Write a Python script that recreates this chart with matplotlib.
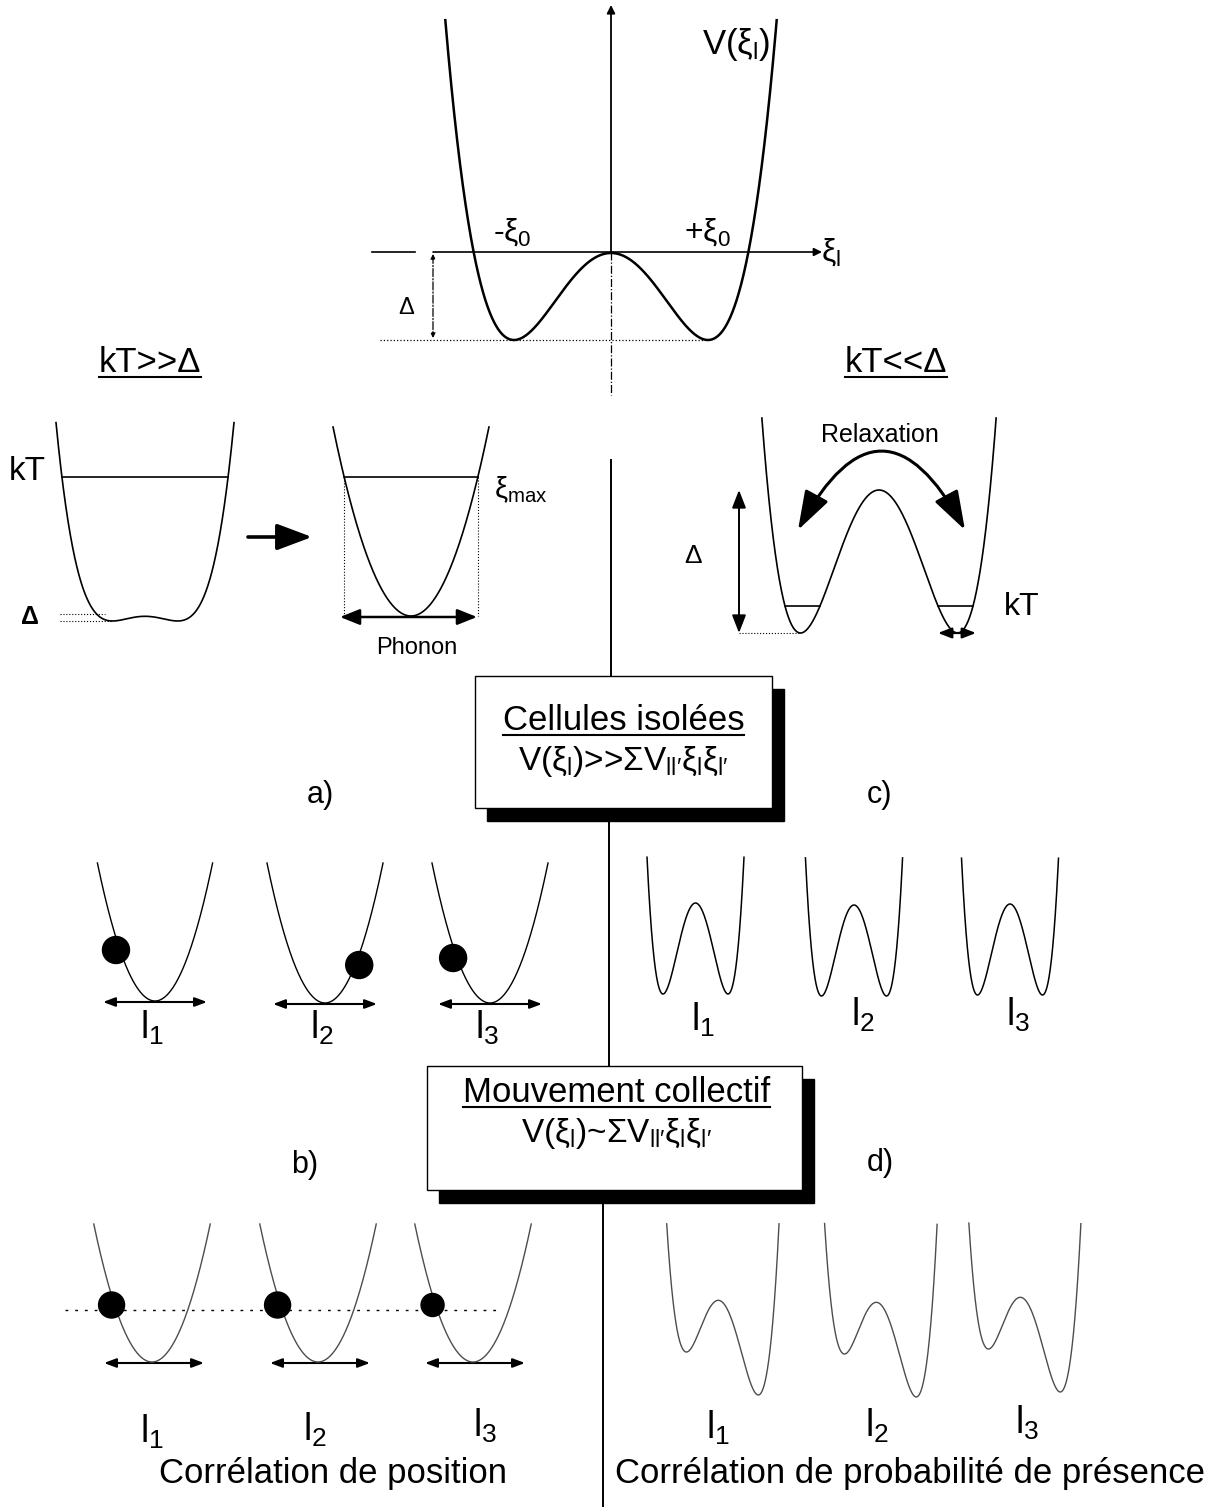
import numpy as np
import matplotlib.pyplot as plt
from matplotlib.patches import Circle, Rectangle, FancyArrowPatch

plt.rcParams['font.family'] = ['Liberation Sans', 'DejaVu Sans']
plt.rcParams['mathtext.fontset'] = 'custom'
plt.rcParams['mathtext.rm'] = 'Liberation Sans'
plt.rcParams['mathtext.it'] = 'Liberation Sans'
plt.rcParams['mathtext.sf'] = 'Liberation Sans'
plt.rcParams['mathtext.bf'] = 'Liberation Sans:bold'

# ---- data (schematic potentials, in picture units) ----
# main double well V(xi_l): barrier height Delta, half distance between minima
main_delta = 87
main_xi0 = 97
# a) kT >> Delta : shallow double well, then harmonic approx (phonon)
a_delta = 4.7
a_xi0 = 32.5
phonon_k = 0.0311
# c) kT << Delta : deep double well
c_delta = 143
c_xi0 = 78.5
# row "isolated cells" : harmonic wells with a particle (side, height above bottom)
iso_k = 0.0416
iso_ball_side = [-1, 1, -1]
iso_ball_height = [51, 38, 45]
# row "isolated cells" right : symmetric double wells
iso_dw_delta = 91
iso_dw_xi0 = 32.5
# row "collective" left : harmonic wells, particles at a common height
col_k = 0.0407
col_ball_height = 57
col_ball_size = [13, 13, 11.5]
# row "collective" right : tilted double wells
col_dw_delta = 72
col_dw_tilt = 21.5
col_dw_xi0 = 36
cell_labels = ['l$_1$', 'l$_2$', 'l$_3$']

# ---- layout ----
W, H = 1228, 1507
fig = plt.figure(figsize=(W / 100, H / 100), dpi=100)
ax = fig.add_axes([0, 0, 1, 1])
ax.set_xlim(0, W)
ax.set_ylim(H, 0)
ax.axis('off')


def double_well(xc, xi0, delta, ybot, ytop, tilt=0.0):
    u = np.linspace(-3, 3, 3001)
    e = delta * (u ** 2 - 1) ** 2 - tilt * u
    y = ybot - (e - e.min())
    keep = y >= ytop
    return xc + xi0 * u[keep], y[keep]


def parabola(xc, k, ybot, ytop):
    half = np.sqrt((ybot - ytop) / k)
    x = np.linspace(xc - half, xc + half, 600)
    return x, ybot - k * (x - xc) ** 2


def crossings(x, y, level):
    s = np.sign(y - level)
    idx = np.where(np.diff(s) != 0)[0]
    return [x[i] + (level - y[i]) * (x[i + 1] - x[i]) / (y[i + 1] - y[i]) for i in idx]


def arrow(p0, p1, style='<|-|>', lw=1.3, ms=10, ls='-', rad=0.0, color='k'):
    a = FancyArrowPatch(p0, p1, arrowstyle=style, mutation_scale=ms, lw=lw,
                        linestyle=ls, color=color, shrinkA=0, shrinkB=0,
                        connectionstyle='arc3,rad=%g' % rad)
    ax.add_patch(a)


def underline(t, gap=5, lw=1.5):
    fig.canvas.draw()
    bb = t.get_window_extent().transformed(ax.transData.inverted())
    x, y = t.get_position()
    ax.plot([min(bb.x0, bb.x1), max(bb.x0, bb.x1)], [y + gap, y + gap], color='k', lw=lw)


# ---- top : main potential ----
x, y = double_well(611, main_xi0, main_delta, 340, 19)
ax.plot(x, y, color='k', lw=1.8)
ax.plot([611, 611], [252, 395], color='k', lw=0.9, ls='-.')
arrow((611, 252), (611, 5), style='-|>', lw=1.3, ms=12)
ax.plot([372, 415], [252, 252], color='k', lw=1.2)
arrow((433, 252), (822, 252), style='-|>', lw=1.2, ms=12)
ax.plot([380, 707], [340, 340], color='k', lw=0.9, ls=':')
arrow((433, 254), (433, 338), style='<|-|>', lw=0.9, ms=7, ls='-.')
ax.text(406, 308, 'Δ', fontsize=17, ha='center', va='center')
ax.text(512, 232, r'-$\xi_0$', fontsize=23, ha='center', va='center')
ax.text(707, 232, r'+$\xi_0$', fontsize=23, ha='center', va='center')
ax.text(821, 252, r'$\xi_\mathrm{l}$', fontsize=23, ha='left', va='center')
ax.text(702, 54, r'V($\xi_\mathrm{l}$)', fontsize=25, ha='left', va='baseline')

t = ax.text(150, 372, 'kT>>Δ', fontsize=25, ha='center', va='baseline')
underline(t)
t = ax.text(896, 372, 'kT<<Δ', fontsize=25, ha='center', va='baseline')
underline(t)

# ---- a) kT >> Delta ----
x, y = double_well(145, a_xi0, a_delta, 621, 422)
ax.plot(x, y, color='k', lw=1.2)
cx = crossings(x, y, 477)
ax.plot([cx[0], cx[-1]], [477, 477], color='k', lw=1.2)
ax.plot([60, 105], [614, 614], color='k', lw=0.8, ls=':')
ax.plot([60, 112], [621, 621], color='k', lw=0.8, ls=':')
ax.text(27, 472, 'kT', fontsize=24, ha='center', va='center')
ax.text(30, 617, 'Δ', fontsize=18, ha='center', va='center', fontweight='bold')
arrow((248, 537), (312, 537), style='-|>,head_length=1.2,head_width=0.45', lw=2.6, ms=18)

x, y = parabola(411, phonon_k, 616, 427)
ax.plot(x, y, color='k', lw=1.2)
cx = crossings(x, y, 477)
ax.plot([cx[0], cx[-1]], [477, 477], color='k', lw=1.2)
for c in cx:
    ax.plot([c, c], [477, 616], color='k', lw=0.8, ls=':')
arrow((340, 617), (477, 617), style='<|-|>,head_length=1.0,head_width=0.4', lw=1.8, ms=12)
ax.text(417, 648, 'Phonon', fontsize=17, ha='center', va='center')
ax.text(494, 490, r'$\xi_\mathrm{max}$', fontsize=21, ha='left', va='center')

# ---- c) kT << Delta ----
x, y = double_well(879, c_xi0, c_delta, 633, 418)
ax.plot(x, y, color='k', lw=1.2)
cx = crossings(x, y, 606)
ax.plot(cx[0:2], [606, 606], color='k', lw=1.2)
ax.plot(cx[2:4], [606, 606], color='k', lw=1.2)
arrow((739, 490), (739, 633), style='<|-|>,head_length=0.9,head_width=0.35', lw=1.4, ms=12)
ax.plot([739, 800], [633, 633], color='k', lw=0.8, ls=':')
arrow((938, 633), (976, 633), style='<|-|>,head_length=0.9,head_width=0.35', lw=1.6, ms=9)
ax.text(693, 556, 'Δ', fontsize=19, ha='center', va='center')
ax.text(1022, 607, 'kT', fontsize=23, ha='center', va='center')
arrow((798, 530), (965, 530), style='<|-|>,head_length=1.5,head_width=0.5', lw=2.2,
      ms=16, rad=-0.92)
ax.text(880, 435, 'Relaxation', fontsize=18, ha='center', va='center')

# ---- central line and boxes ----
ax.plot([611, 611], [460, 676], color='k', lw=1.4)
ax.plot([609, 609], [822, 1066], color='k', lw=1.4)
ax.plot([603, 603], [1203, H], color='k', lw=1.4)

formula_iso = r"V($\xi_\mathrm{l}$)>>$\Sigma$V$_{\mathrm{ll}\prime}\xi_\mathrm{l}\xi_{\mathrm{l}\prime}$"
formula_col = r"V($\xi_\mathrm{l}$)~$\Sigma$V$_{\mathrm{ll}\prime}\xi_\mathrm{l}\xi_{\mathrm{l}\prime}$"
for (bx, by, bw, bh), title, formula, ty, fy, dx in [
        ((475, 676, 297, 132), 'Cellules isolées', formula_iso, 730, 770, 0),
        ((427, 1066, 375, 124), 'Mouvement collectif', formula_col, 1102, 1142, 2)]:
    ax.add_patch(Rectangle((bx + 12, by + 13), bw, bh, facecolor='k', edgecolor='k'))
    ax.add_patch(Rectangle((bx, by), bw, bh, facecolor='white', edgecolor='k', lw=1.0))
    t = ax.text(bx + bw / 2 + dx, ty, title, fontsize=25, ha='center', va='baseline')
    underline(t, gap=5)
    ax.text(bx + bw / 2 + dx, fy, formula, fontsize=24, ha='center', va='baseline')

ax.text(320, 795, 'a)', fontsize=22, ha='center', va='center')
ax.text(880, 795, 'c)', fontsize=22, ha='center', va='center')
ax.text(305, 1165, 'b)', fontsize=22, ha='center', va='center')
ax.text(880, 1163, 'd)', fontsize=22, ha='center', va='center')

# ---- isolated cells : harmonic wells with particles ----
iso_xc = [155, 325, 490]
iso_ybot = [1001, 1003, 1003]
for i in range(3):
    x, y = parabola(iso_xc[i], iso_k, iso_ybot[i], 863)
    ax.plot(x, y, color='k', lw=1.0)
    arrow((iso_xc[i] - 52, iso_ybot[i] + 1), (iso_xc[i] + 52, iso_ybot[i] + 1),
          style='<|-|>,head_length=0.8,head_width=0.3', lw=1.5, ms=9)
    bx = iso_xc[i] + iso_ball_side[i] * np.sqrt(iso_ball_height[i] / iso_k)
    ax.add_patch(Circle((bx + iso_ball_side[i] * 4, iso_ybot[i] - iso_ball_height[i]), 13.5,
                        color='k', zorder=3))
    ax.text(iso_xc[i] - 3, 1028, cell_labels[i], fontsize=27, ha='center', va='center')

# ---- isolated cells : symmetric double wells ----
isodw_xc = [695.5, 854, 1010]
isodw_ybot = [994, 996, 995]
isodw_lab = [(703, 1020), (863, 1015), (1018, 1015)]
for i in range(3):
    x, y = double_well(isodw_xc[i], iso_dw_xi0, iso_dw_delta, isodw_ybot[i], 857)
    ax.plot(x, y, color='k', lw=1.1)
    ax.text(isodw_lab[i][0], isodw_lab[i][1], cell_labels[i], fontsize=27, ha='center', va='center')

# ---- collective : harmonic wells, position correlation ----
col_xc = [152, 318, 473]
col_ybot = 1362
col_lab = [(152, 1432), (315, 1430), (485, 1426)]
for i in range(3):
    x, y = parabola(col_xc[i], col_k, col_ybot, 1224)
    ax.plot(x, y, color='0.3', lw=1.0)
    arrow((col_xc[i] - 48, col_ybot + 1), (col_xc[i] + 52, col_ybot + 1),
          style='<|-|>,head_length=0.8,head_width=0.3', lw=1.5, ms=9)
    bx = col_xc[i] - np.sqrt(col_ball_height / col_k)
    ax.add_patch(Circle((bx - 3, col_ybot - col_ball_height), col_ball_size[i], color='k', zorder=3))
    ax.text(col_lab[i][0], col_lab[i][1], cell_labels[i], fontsize=27, ha='center', va='center')
ax.plot([65, 500], [1310, 1310], color='k', lw=1.0, ls=(0, (2, 5)))
ax.text(333, 1473, 'Corrélation de position', fontsize=25, ha='center', va='center')

# ---- collective : tilted double wells ----
coldw_xc = [721, 879, 1023]
coldw_ybot = [1395, 1397, 1392]
coldw_lab = [(718, 1428), (877, 1426), (1027, 1423)]
for i in range(3):
    x, y = double_well(coldw_xc[i], col_dw_xi0, col_dw_delta, coldw_ybot[i], 1223, tilt=col_dw_tilt)
    ax.plot(x, y, color='0.3', lw=1.0)
    ax.text(coldw_lab[i][0], coldw_lab[i][1], cell_labels[i], fontsize=27, ha='center', va='center')
ax.text(910, 1473, 'Corrélation de probabilité de présence', fontsize=25, ha='center', va='center')

fig.savefig('out.png', dpi=100, facecolor='white')
